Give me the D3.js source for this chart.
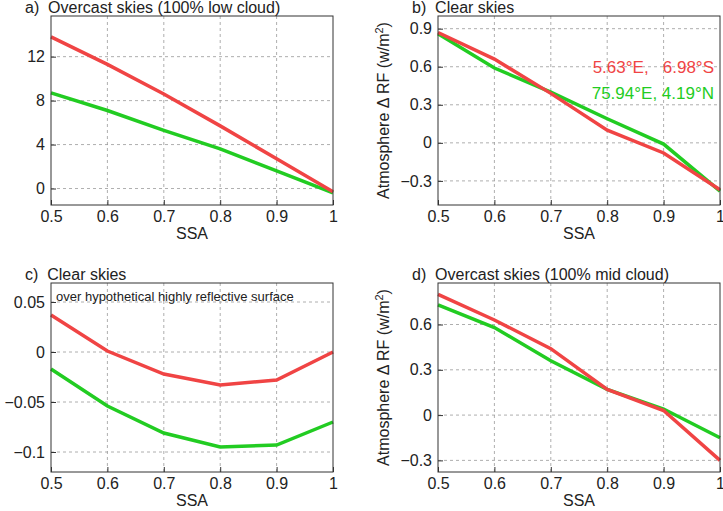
<!DOCTYPE html>
<html><head><meta charset="utf-8">
<script src="https://cdn.jsdelivr.net/npm/d3@7"></script>
<style>body{margin:0;background:#fff}text{font-family:"Liberation Sans",Arial,sans-serif;white-space:pre}</style>
</head><body><svg id="c" width="723" height="511"></svg>
<script>
// SSA values on the x axis
var ssa = [0.5, 0.6, 0.7, 0.8, 0.9, 1.0];
var xticks = ["0.5", "0.6", "0.7", "0.8", "0.9", "1"];
// panel a
var a_red = [13.8, 11.3, 8.6, 5.7, 2.7, -0.3];
var a_green = [8.7, 7.1, 5.3, 3.6, 1.6, -0.4];
var a_ticks = [0, 4, 8, 12];
// panel b
var b_red = [0.87, 0.66, 0.39, 0.10, -0.08, -0.37];
var b_green = [0.86, 0.59, 0.40, 0.19, -0.01, -0.38];
var b_ticks = [-0.3, 0, 0.3, 0.6, 0.9];
// panel c
var c_red = [0.037, 0.001, -0.022, -0.033, -0.028, 0.0];
var c_green = [-0.017, -0.054, -0.081, -0.095, -0.093, -0.070];
var c_ticks = [-0.1, -0.05, 0, 0.05];
// panel d
var d_red = [0.80, 0.63, 0.44, 0.17, 0.03, -0.30];
var d_green = [0.73, 0.58, 0.36, 0.17, 0.04, -0.15];
var d_ticks = [-0.3, 0, 0.3, 0.6];

var red = "#f04444", green = "#22cc22";
var svg = d3.select("#c");

function fmt(v) { return v < 0 ? "\u2212" + String(-v) : String(v); }

function panel(x0, y0, ydom, yt, red_v, green_v, title, ylab) {
    var w = 282, h = 189;
    var g = svg.append("g").attr("transform", "translate(" + x0 + "," + y0 + ")");
    var x = d3.scaleLinear().domain([0.5, 1]).range([0, w]);
    var y = d3.scaleLinear().domain(ydom).range([h, 0]);

    // dashed grid
    g.selectAll(".gx").data(ssa.slice(1, 5)).enter().append("line")
        .attr("x1", x).attr("x2", x).attr("y1", 0).attr("y2", h)
        .attr("stroke", "#999").attr("stroke-dasharray", "3,3").attr("stroke-width", 0.8);
    g.selectAll(".gy").data(yt).enter().append("line")
        .attr("y1", y).attr("y2", y).attr("x1", 0).attr("x2", w)
        .attr("stroke", "#999").attr("stroke-dasharray", "3,3").attr("stroke-width", 0.8);

    var line = d3.line().x(function(d, i) { return x(ssa[i]); }).y(function(d) { return y(d); });
    g.append("path").datum(green_v).attr("d", line).attr("fill", "none")
        .attr("stroke", green).attr("stroke-width", 3.5);
    g.append("path").datum(red_v).attr("d", line).attr("fill", "none")
        .attr("stroke", red).attr("stroke-width", 3.5);

    g.append("rect").attr("width", w).attr("height", h).attr("fill", "none")
        .attr("stroke", "#333").attr("stroke-width", 1);

    var xa = g.append("g").attr("transform", "translate(0," + h + ")")
        .call(d3.axisBottom(x).tickValues(ssa).tickFormat(function(d, i) { return xticks[i]; })
        .tickSize(-5).tickPadding(6));
    var ya = g.append("g").call(d3.axisLeft(y).tickValues(yt).tickFormat(fmt).tickSize(-5).tickPadding(6));
    [xa, ya].forEach(function(a) {
        a.select(".domain").remove();
        a.selectAll("text").attr("font-size", 16).attr("fill", "#222")
            .style("font-family", "Liberation Sans, Arial, sans-serif");
        a.selectAll("line").attr("stroke", "#333");
    });

    g.append("text").attr("x", w / 2).attr("y", h + 34).attr("text-anchor", "middle")
        .attr("font-size", 16).attr("fill", "#222").text("SSA");
    g.append("text").attr("x", -26).attr("y", -3).attr("font-size", 16).attr("fill", "#222").text(title);
    if (ylab) {
        var t = g.append("text").attr("transform", "translate(-49," + (h / 2) + ") rotate(-90)")
            .attr("text-anchor", "middle").attr("font-size", 16).attr("fill", "#222");
        t.append("tspan").text("Atmosphere \u0394 RF (w/m");
        t.append("tspan").attr("dy", -6).attr("font-size", 11).text("2");
        t.append("tspan").attr("dy", 6).text(")");
    }
    return g;
}

panel(51, 16, [-1.5, 15.7], a_ticks, a_red, a_green, "a)  Overcast skies (100% low cloud)", false);
var gb = panel(438, 16, [-0.49, 1.0], b_ticks, b_red, b_green, "b)  Clear skies", true);
var gc = panel(51, 283, [-0.12, 0.069], c_ticks, c_red, c_green, "c)  Clear skies", false);
panel(438, 283, [-0.377, 0.875], d_ticks, d_red, d_green, "d)  Overcast skies (100% mid cloud)", true);

gb.append("text").attr("x", 276).attr("y", 57).attr("text-anchor", "end")
    .attr("font-size", 17).attr("fill", red).text("5.63\u00b0E,   6.98\u00b0S");
gb.append("text").attr("x", 276).attr("y", 83).attr("text-anchor", "end")
    .attr("font-size", 17).attr("fill", green).text("75.94\u00b0E, 4.19\u00b0N");
gc.append("text").attr("x", 5).attr("y", 18).attr("font-size", 13).attr("fill", "#222")
    .text("over hypothetical highly reflective surface");
</script></body></html>
